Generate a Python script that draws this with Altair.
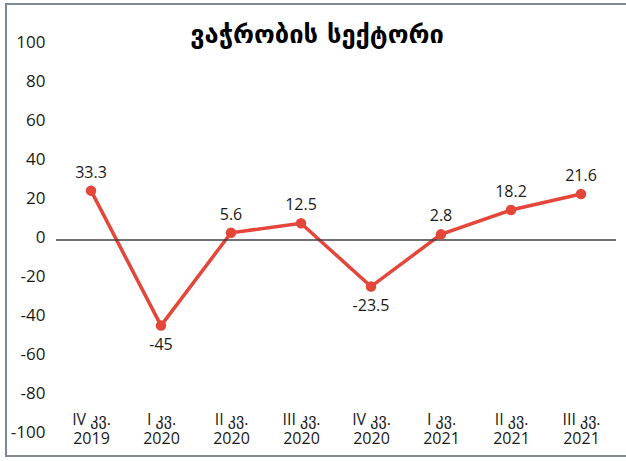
import altair as alt
import pandas as pd

# ---- data -------------------------------------------------------------
quarters = ["IV კვ.\n2019", "I კვ.\n2020", "II კვ.\n2020", "III კვ.\n2020",
            "IV კვ.\n2020", "I კვ.\n2021", "II კვ.\n2021", "III კვ.\n2021"]
# plotted positions
values = [25.3, -43.9, 3.7, 8.6, -23.9, 2.9, 15.4, 23.6]
# printed data labels
label_texts = ["33.3", "-45", "5.6", "12.5", "-23.5", "2.8", "18.2", "21.6"]
y_ticks = [-100, -80, -60, -40, -20, 0, 20, 40, 60, 80, 100]
title_text = "ვაჭრობის სექტორი"

df = pd.DataFrame({"q": quarters, "v": values, "lab": label_texts})

FONT = "Open Sans, DejaVu Sans"
RED = "#E4463A"

x_enc = alt.X("q:N", sort=quarters,
              scale=alt.Scale(paddingInner=0, paddingOuter=0),
              axis=alt.Axis(title=None, labelAngle=0, domain=False, ticks=False,
                            labelExpr="split(datum.label, '\\n')",
                            labelFontSize=16, labelFont=FONT, labelColor="#1a1a1a",
                            labelLineHeight=19, labelPadding=0, offset=-24,
                            labelBaseline="top", labelOverlap=False))
y_enc = alt.Y("v:Q", scale=alt.Scale(domain=[-100, 100], nice=False, zero=False),
              axis=alt.Axis(title=None, values=y_ticks, domain=False, ticks=False,
                            grid=False, labelFontSize=17, labelFont=FONT,
                            labelColor="#1a1a1a", labelPadding=11, labelOffset=-3,
                            labelOverlap=False,
                            labelExpr="replace(datum.label, '\u2212', '-')"))

base = alt.Chart(df)

frame = alt.Chart(pd.DataFrame({"a": [0]})).mark_rect(
    fill="transparent", stroke="#7f8996", strokeWidth=2
).encode(x=alt.value(-50), x2=alt.value(620), y=alt.value(-41), y2=alt.value(411))

line = base.mark_line(color=RED, strokeWidth=3.5).encode(x=x_enc, y=y_enc)

zero = alt.Chart(pd.DataFrame({"v": [0]})).mark_rule(
    color="#404040", strokeWidth=1.5
).encode(y=y_enc)

pts = base.mark_circle(color=RED, size=110, opacity=1).encode(x=x_enc, y=y_enc)

lab_up = base.transform_filter("datum.v >= 0").mark_text(
    dy=-18, fontSize=16, font=FONT, color="#1a1a1a", baseline="middle"
).encode(x=x_enc, y=y_enc, text="lab:N")
lab_dn = base.transform_filter("datum.v < 0").mark_text(
    dy=19, fontSize=16, font=FONT, color="#1a1a1a", baseline="middle"
).encode(x=x_enc, y=y_enc, text="lab:N")

title = alt.Chart(pd.DataFrame({"t": [title_text]})).mark_text(
    fontSize=25.5, fontWeight="bold", font="DejaVu Sans", color="#000000",
    baseline="middle", align="center"
).encode(x=alt.value(261), y=alt.value(-10), text="t:N")

chart = alt.layer(frame, line, zero, pts, lab_up, lab_dn, title).properties(
    width=560, height=390,
    padding={"left": 56, "top": 45, "right": 10, "bottom": 26},
    autosize=alt.AutoSizeParams(type="none"),
    background="white",
).configure_view(stroke=None).configure_axis(labelOverlap=False)

chart.save("out.html", embed_options={"renderer": "svg", "actions": False})
